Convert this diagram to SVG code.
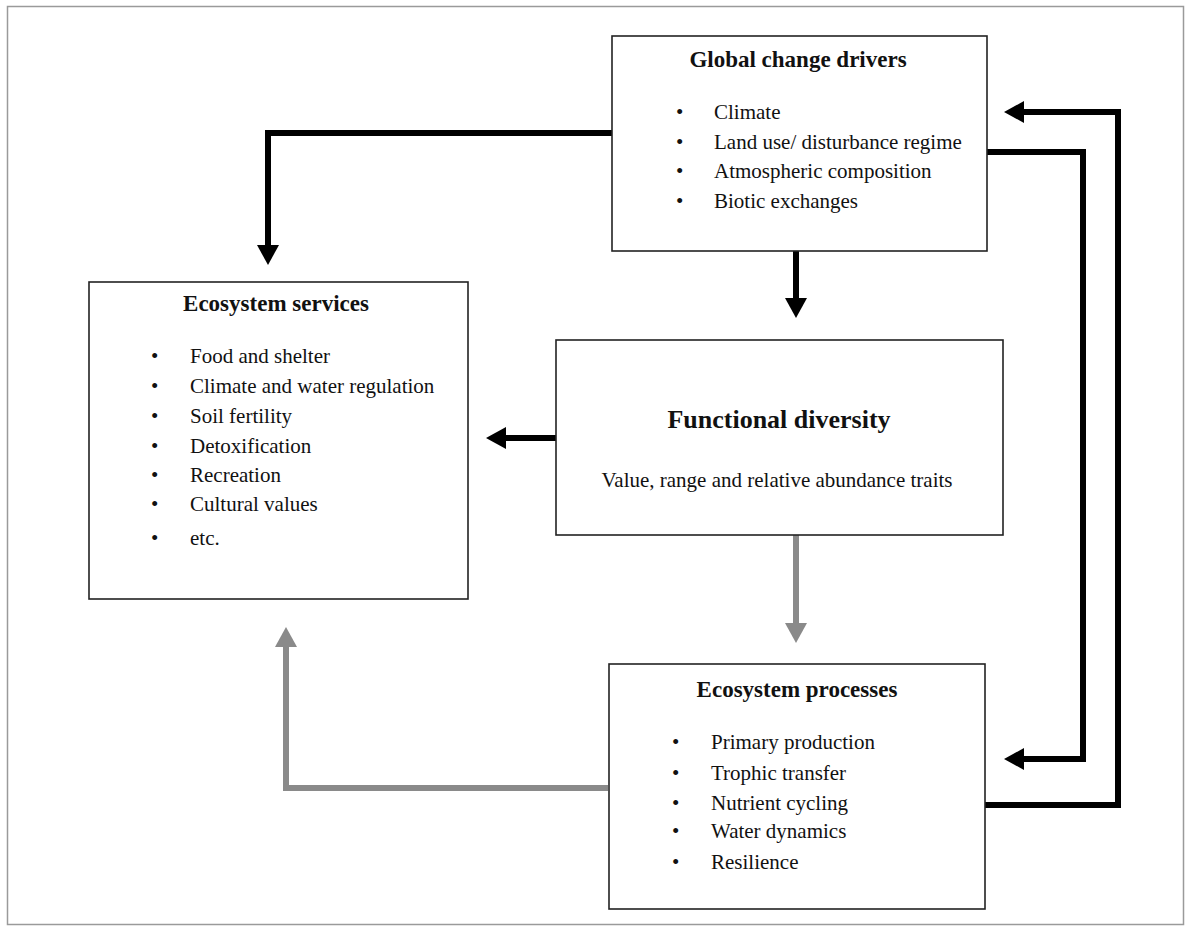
<svg xmlns="http://www.w3.org/2000/svg" width="1194" height="932" viewBox="0 0 1194 932">
<style>
.box{fill:#fff;stroke:#222;stroke-width:1.6}
.title{font-family:"Liberation Serif","Times New Roman",serif;font-weight:bold;font-size:23px;fill:#111;text-anchor:middle}
.item{font-family:"Liberation Serif","Times New Roman",serif;font-size:21px;fill:#111}
.blk{fill:none;stroke:#000;stroke-width:6;stroke-linejoin:miter}
.gry{fill:none;stroke:#8a8a8a;stroke-width:6;stroke-linejoin:miter}
</style>
<defs>
<marker id="ab" viewBox="0 0 20 22" refX="1" refY="11" markerWidth="20" markerHeight="22" markerUnits="userSpaceOnUse" orient="auto"><path d="M0,0 L20,11 L0,22 z" fill="#000"/></marker>
<marker id="ag" viewBox="0 0 20 22" refX="1" refY="11" markerWidth="20" markerHeight="22" markerUnits="userSpaceOnUse" orient="auto"><path d="M0,0 L20,11 L0,22 z" fill="#8a8a8a"/></marker>
</defs>
<rect x="0" y="0" width="1194" height="932" fill="#fff"/>
<rect x="7.5" y="6.5" width="1176" height="918" fill="none" stroke="#9a9a9a" stroke-width="1.5"/>
<g id="connectors">
<path class="blk" d="M612,133 H268 V246" marker-end="url(#ab)"/>
<path class="blk" d="M796,251 V299" marker-end="url(#ab)"/>
<path class="blk" d="M556,438 H505" marker-end="url(#ab)"/>
<path class="gry" d="M796,535 V624" marker-end="url(#ag)"/>
<path class="gry" d="M608,788 H286 V646" marker-end="url(#ag)"/>
<path class="blk" d="M987,152 H1083 V759 H1023" marker-end="url(#ab)"/>
<path class="blk" d="M985,805 H1118 V112 H1023" marker-end="url(#ab)"/>
</g>
<g id="global-change-drivers">
<rect class="box" x="612" y="36" width="375" height="215"/>
<text class="title" x="798" y="67">Global change drivers</text>
<text class="item" x="676" y="119">•</text><text class="item" x="714" y="119">Climate</text>
<text class="item" x="676" y="149">•</text><text class="item" x="714" y="149">Land use/ disturbance regime</text>
<text class="item" x="676" y="178">•</text><text class="item" x="714" y="178">Atmospheric composition</text>
<text class="item" x="676" y="208">•</text><text class="item" x="714" y="208">Biotic exchanges</text>
</g>
<g id="ecosystem-services">
<rect class="box" x="89" y="282" width="379" height="317"/>
<text class="title" x="276" y="311">Ecosystem services</text>
<text class="item" x="151" y="363">•</text><text class="item" x="190" y="363">Food and shelter</text>
<text class="item" x="151" y="393">•</text><text class="item" x="190" y="393">Climate and water regulation</text>
<text class="item" x="151" y="423">•</text><text class="item" x="190" y="423">Soil fertility</text>
<text class="item" x="151" y="453">•</text><text class="item" x="190" y="453">Detoxification</text>
<text class="item" x="151" y="482">•</text><text class="item" x="190" y="482">Recreation</text>
<text class="item" x="151" y="511">•</text><text class="item" x="190" y="511">Cultural values</text>
<text class="item" x="151" y="545">•</text><text class="item" x="190" y="545">etc.</text>
</g>
<g id="functional-diversity">
<rect class="box" x="556" y="340" width="447" height="195"/>
<text class="title" x="779" y="428" style="font-size:26px">Functional diversity</text>
<text class="item" x="777" y="487" text-anchor="middle">Value, range and relative abundance traits</text>
</g>
<g id="ecosystem-processes">
<rect class="box" x="609" y="664" width="376" height="245"/>
<text class="title" x="797" y="697">Ecosystem processes</text>
<text class="item" x="672" y="749">•</text><text class="item" x="711" y="749">Primary production</text>
<text class="item" x="672" y="780">•</text><text class="item" x="711" y="780">Trophic transfer</text>
<text class="item" x="672" y="810">•</text><text class="item" x="711" y="810">Nutrient cycling</text>
<text class="item" x="672" y="838">•</text><text class="item" x="711" y="838">Water dynamics</text>
<text class="item" x="672" y="869">•</text><text class="item" x="711" y="869">Resilience</text>
</g>
</svg>
